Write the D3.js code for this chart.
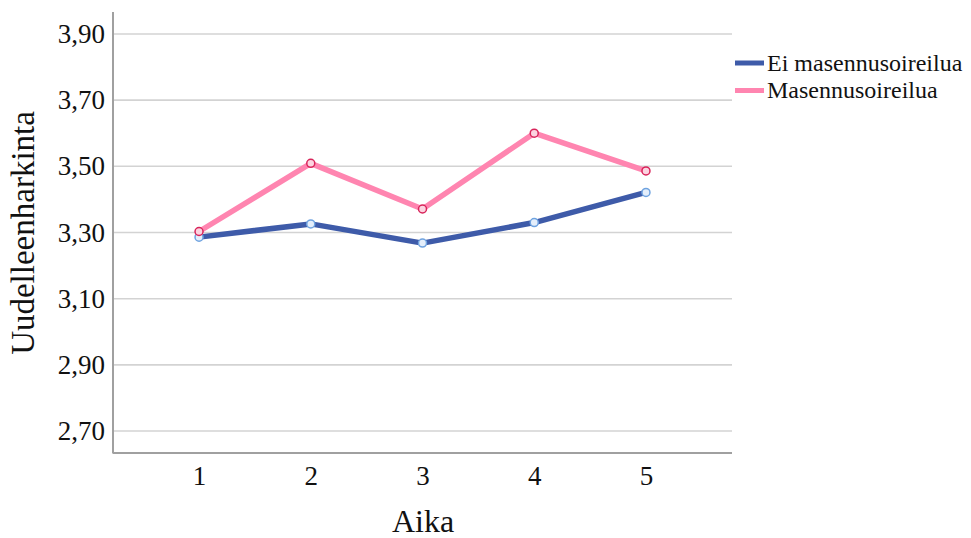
<!DOCTYPE html>
<html><head><meta charset="utf-8">
<script src="https://cdn.jsdelivr.net/npm/d3@7"></script>
</head><body style="margin:0;background:#fff">
<svg id="c" width="971" height="538"></svg>
<script>
const times = [1, 2, 3, 4, 5];
const seriesNames = ["Ei masennusoireilua", "Masennusoireilua"];
const noDepression = [3.286, 3.326, 3.268, 3.330, 3.421];
const depression = [3.303, 3.509, 3.371, 3.600, 3.486];
const yTicks = [2.70, 2.90, 3.10, 3.30, 3.50, 3.70, 3.90];
const colors = ["#3E5BA9", "#FF85B0"];
const markerStroke = ["#6FA3E0", "#D8245A"];
const markerFill = ["#E4EEFB", "#FCD3E0"];
const FONT = '"Liberation Serif"';

const svg = d3.select("#c");
const L = 113, R = 732, T = 12, B = 453;
const x = d3.scaleLinear().domain([0.23, 5.77]).range([L, R]);
const y = d3.scaleLinear().domain([2.70 - 22/331.5, 3.90 + 22/331.5]).range([B, T]);
const fmt = d => d3.format(".2f")(d).replace(".", ",");

// gridlines
svg.append("g").selectAll("line").data(yTicks).join("line")
  .attr("x1", L).attr("x2", R).attr("y1", d => y(d)).attr("y2", d => y(d))
  .attr("stroke", "#d3d3d3").attr("stroke-width", 1.6);

// y axis
const ya = svg.append("g").attr("transform", `translate(${L},0)`)
  .call(d3.axisLeft(y).tickValues(yTicks).tickFormat(fmt).tickSize(0).tickPadding(8));
ya.select(".domain").remove();
ya.selectAll("text").attr("font-size", 27).attr("fill", "#111").style("font-family", FONT);
// x axis
const xa = svg.append("g").attr("transform", `translate(0,${B})`)
  .call(d3.axisBottom(x).tickValues(times).tickFormat(d3.format("d")).tickSize(0).tickPadding(13));
xa.select(".domain").remove();
xa.selectAll("text").attr("font-size", 27).attr("fill", "#111").style("font-family", FONT);

svg.append("line").attr("x1", L).attr("x2", L).attr("y1", T).attr("y2", B+0.5).attr("stroke", "#a0a0a0").attr("stroke-width", 2);
svg.append("line").attr("x1", L).attr("x2", R).attr("y1", B).attr("y2", B).attr("stroke", "#a0a0a0").attr("stroke-width", 2);

// titles
svg.append("text").attr("transform", `translate(34,233) rotate(-90)`).attr("text-anchor", "middle")
  .attr("font-size", 33).attr("fill", "#111").style("font-family", FONT).text("Uudelleenharkinta");
svg.append("text").attr("x", 423).attr("y", 532).attr("text-anchor", "middle")
  .attr("font-size", 32).attr("fill", "#111").style("font-family", FONT).text("Aika");

const line = d3.line().x((d, i) => x(times[i])).y(d => y(d));
[noDepression, depression].forEach((vals, s) => {
  svg.append("path").datum(vals).attr("d", line).attr("fill", "none")
    .attr("stroke", colors[s]).attr("stroke-width", 5.5).attr("stroke-linejoin", "round");
});
[noDepression, depression].forEach((vals, s) => {
  svg.append("g").selectAll("circle").data(vals).join("circle")
    .attr("cx", (d, i) => x(times[i])).attr("cy", d => y(d)).attr("r", 4)
    .attr("fill", markerFill[s]).attr("stroke", markerStroke[s]).attr("stroke-width", 1.5);
});

// legend
const lg = svg.append("g");
seriesNames.forEach((n, i) => {
  const yy = 63 + i * 27.5;
  lg.append("line").attr("x1", 735).attr("x2", 764).attr("y1", yy).attr("y2", yy)
    .attr("stroke", colors[i]).attr("stroke-width", 5);
  lg.append("text").attr("x", 767).attr("y", yy + 7.5).attr("font-size", 24).attr("fill", "#111")
    .style("font-family", FONT).text(n);
});
</script>
</body></html>
